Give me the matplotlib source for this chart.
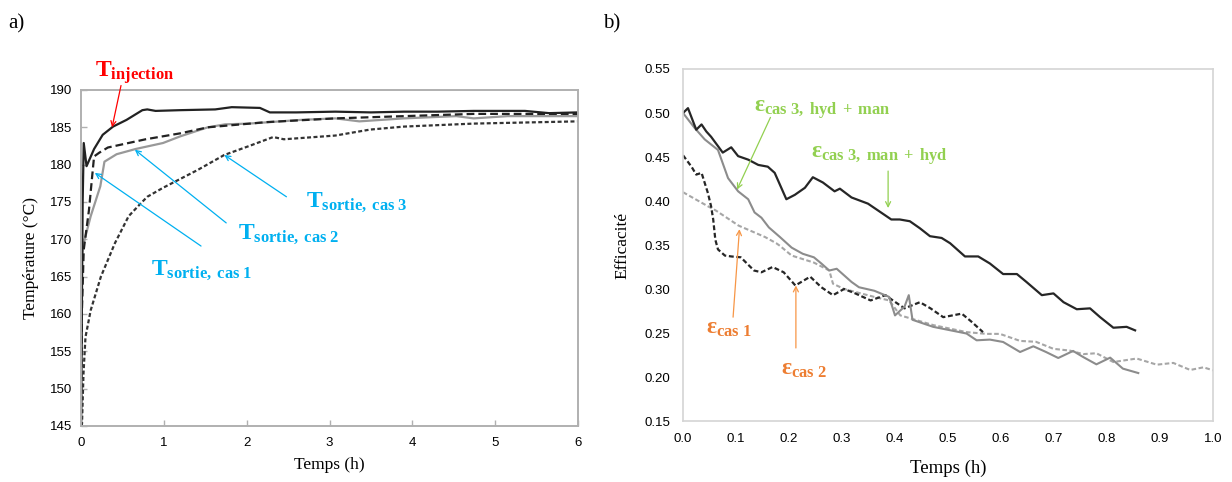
import matplotlib
matplotlib.use("Agg")
import matplotlib.pyplot as plt

plt.rcParams['mathtext.fontset'] = 'custom'
plt.rcParams['mathtext.rm'] = 'Liberation Serif'
plt.rcParams['mathtext.bf'] = 'Liberation Serif:bold'
plt.rcParams['mathtext.it'] = 'Liberation Serif:italic'
plt.rcParams['lines.solid_joinstyle'] = 'round'
plt.rcParams['lines.dash_joinstyle'] = 'round'

# ---------------- Panel a data (Temps en h, Température en °C) ----------------
t_inj = [0.0, 0.02, 0.033, 0.067, 0.158, 0.262, 0.387, 0.55, 0.741, 0.80, 0.9, 1.2, 1.62, 1.82, 2.16, 2.28, 2.6, 3.07, 3.5, 3.9, 4.3, 4.74, 5.36, 5.65, 6.0]
T_inj = [145.0, 175.0, 182.9, 179.8, 182.1, 184.0, 185.1, 186.0, 187.3, 187.4, 187.2, 187.3, 187.4, 187.7, 187.6, 187.0, 187.0, 187.1, 187.0, 187.1, 187.1, 187.2, 187.2, 186.9, 187.0]

t_cas1 = [0.0, 0.01, 0.033, 0.096, 0.137, 0.158, 0.22, 0.325, 0.78, 1.2, 1.53, 2.24, 3.07, 3.9, 4.74, 6.0]
T_cas1 = [145.0, 160.0, 168.6, 173.9, 178.7, 181.1, 181.6, 182.3, 183.4, 184.2, 185.0, 185.7, 186.2, 186.5, 186.8, 186.8]

t_cas2 = [0.0, 0.012, 0.033, 0.117, 0.233, 0.283, 0.43, 0.66, 0.99, 1.2, 1.53, 1.74, 2.03, 2.66, 3.07, 3.36, 3.9, 4.53, 4.74, 5.15, 6.0]
T_cas2 = [145.0, 167.7, 169.5, 173.1, 177.1, 180.4, 181.4, 182.1, 182.9, 183.8, 185.0, 185.4, 185.5, 186.0, 186.2, 185.8, 186.2, 186.5, 186.2, 186.5, 186.5]

t_cas3 = [0.005, 0.012, 0.03, 0.054, 0.117, 0.24, 0.41, 0.575, 0.72, 0.80, 0.99, 1.41, 1.73, 2.03, 2.32, 2.45, 3.07, 3.49, 3.9, 4.74, 6.0]
T_cas3 = [145.0, 145.3, 152.0, 156.9, 160.5, 165.0, 169.5, 173.1, 174.8, 175.7, 176.9, 179.3, 181.3, 182.5, 183.7, 183.4, 183.9, 184.7, 185.1, 185.5, 185.8]

# ---------------- Panel b data (Temps en h, Efficacité) ----------------
x_man_hyd = [0.0, 0.0094, 0.025, 0.035, 0.044, 0.053, 0.075, 0.091, 0.104, 0.123, 0.142, 0.160, 0.173, 0.195, 0.211, 0.230, 0.245, 0.264, 0.286, 0.296, 0.318, 0.349, 0.393, 0.409, 0.428, 0.447, 0.466, 0.488, 0.504, 0.532, 0.557, 0.579, 0.604, 0.630, 0.648, 0.677, 0.699, 0.718, 0.743, 0.768, 0.787, 0.812, 0.837, 0.853]
e_man_hyd = [0.500, 0.5055, 0.481, 0.487, 0.479, 0.473, 0.455, 0.461, 0.451, 0.447, 0.441, 0.439, 0.432, 0.402, 0.407, 0.415, 0.427, 0.421, 0.411, 0.414, 0.404, 0.397, 0.379, 0.379, 0.377, 0.369, 0.360, 0.358, 0.352, 0.337, 0.337, 0.329, 0.317, 0.317, 0.308, 0.293, 0.295, 0.285, 0.277, 0.278, 0.268, 0.256, 0.257, 0.253]

x_hyd_man = [0.0, 0.022, 0.041, 0.066, 0.085, 0.104, 0.123, 0.135, 0.148, 0.162, 0.183, 0.205, 0.226, 0.247, 0.261, 0.276, 0.29, 0.318, 0.332, 0.361, 0.389, 0.40, 0.418, 0.426, 0.433, 0.472, 0.535, 0.554, 0.579, 0.604, 0.636, 0.661, 0.685, 0.708, 0.736, 0.755, 0.780, 0.806, 0.830, 0.859]
e_hyd_man = [0.500, 0.483, 0.470, 0.458, 0.426, 0.411, 0.402, 0.387, 0.381, 0.370, 0.359, 0.347, 0.340, 0.336, 0.329, 0.321, 0.323, 0.308, 0.302, 0.298, 0.291, 0.270, 0.280, 0.293, 0.265, 0.257, 0.2494, 0.2417, 0.2425, 0.2398, 0.2284, 0.2349, 0.2284, 0.2216, 0.2296, 0.2227, 0.2144, 0.222, 0.2095, 0.2045]

x_e2 = [0.0, 0.016, 0.025, 0.035, 0.047, 0.053, 0.057, 0.061, 0.066, 0.079, 0.091, 0.109, 0.134, 0.148, 0.169, 0.19, 0.212, 0.24, 0.261, 0.283, 0.304, 0.325, 0.354, 0.382, 0.396, 0.418, 0.447, 0.467, 0.491, 0.526, 0.544, 0.566]
e_e2 = [0.452, 0.439, 0.430, 0.432, 0.409, 0.394, 0.379, 0.356, 0.345, 0.338, 0.337, 0.336, 0.321, 0.319, 0.325, 0.319, 0.304, 0.314, 0.302, 0.293, 0.300, 0.295, 0.287, 0.293, 0.287, 0.278, 0.285, 0.278, 0.268, 0.272, 0.263, 0.251]

x_e1 = [0.0, 0.047, 0.0625, 0.105, 0.155, 0.176, 0.183, 0.205, 0.247, 0.276, 0.283, 0.304, 0.361, 0.389, 0.41, 0.472, 0.535, 0.573, 0.598, 0.636, 0.666, 0.699, 0.730, 0.755, 0.780, 0.812, 0.856, 0.894, 0.925, 0.957, 0.982, 1.0]
e_e1 = [0.410, 0.394, 0.389, 0.372, 0.359, 0.352, 0.349, 0.338, 0.330, 0.321, 0.306, 0.300, 0.291, 0.287, 0.270, 0.259, 0.251, 0.249, 0.249, 0.241, 0.240, 0.232, 0.230, 0.226, 0.227, 0.217, 0.221, 0.214, 0.216, 0.208, 0.211, 0.2076]

a_xticks = [0, 1, 2, 3, 4, 5, 6]
a_yticks = [145, 150, 155, 160, 165, 170, 175, 180, 185, 190]
b_xticks = [0.0, 0.1, 0.2, 0.3, 0.4, 0.5, 0.6, 0.7, 0.8, 0.9, 1.0]
b_yticks = [0.15, 0.20, 0.25, 0.30, 0.35, 0.40, 0.45, 0.50, 0.55]

W, H = 1232, 482
fig = plt.figure(figsize=(W / 100, H / 100), dpi=100)

def fx(px):
    return px / W

def fy(py):
    return 1 - py / H

SERIF = 'Liberation Serif'
SANS = 'Liberation Sans'
CYAN = '#00b0f0'
RED = '#ff0000'
GREEN = '#92d050'
ORANGE = '#ed7d31'
ORANGE_L = '#f79646'

# ---------------- Panel a ----------------
ax1 = fig.add_axes([fx(81), fy(426), fx(578) - fx(81), fy(90) - fy(426)])
ax1.plot(t_cas3, T_cas3, color='#333333', lw=1.6, ls=(0, (1.8, 1.1)))
ax1.plot(t_cas2, T_cas2, color='#999999', lw=1.6)
ax1.plot(t_cas1, T_cas1, color='#222222', lw=1.6, ls=(0, (3.5, 1.8)))
ax1.plot(t_inj, T_inj, color='#222222', lw=1.6)
ax1.set_xlim(0, 6)
ax1.set_ylim(145, 190)
ax1.set_xticks(a_xticks)
ax1.set_yticks(a_yticks)
ax1.set_xticklabels([str(v) for v in a_xticks], fontfamily=SANS, fontsize=9.5)
ax1.set_yticklabels([str(v) for v in a_yticks], fontfamily=SANS, fontsize=9.5)
for s in ax1.spines.values():
    s.set_color('#b0b0b0')
    s.set_linewidth(1.4)
ax1.tick_params(axis='both', direction='in', length=4, color='#b0b0b0', width=1.0, pad=6)
ax1.tick_params(axis='x', pad=8)
ax1.set_xlabel('Temps (h)', fontfamily=SERIF, fontsize=12.5, labelpad=6)
ax1.set_ylabel('Température (°C)', fontfamily=SERIF, fontsize=12.5, labelpad=8)

arrow_c = dict(arrowstyle='->', color=CYAN, lw=0.9, shrinkA=0, shrinkB=0, mutation_scale=9)
ax1.annotate('', xy=(0.167, 178.9), xytext=(1.449, 169.1), arrowprops=arrow_c)
ax1.annotate('', xy=(0.65, 182.0), xytext=(1.753, 172.2), arrowprops=arrow_c)
ax1.annotate('', xy=(1.73, 181.3), xytext=(2.48, 175.7), arrowprops=arrow_c)
arrow_r = dict(arrowstyle='->', color=RED, lw=0.9, shrinkA=0, shrinkB=0, mutation_scale=9)
ax1.annotate('', xy=(0.375, 185.0), xytext=(0.483, 190.6), arrowprops=arrow_r, annotation_clip=False)

fig.text(fx(95), fy(77), r'$\mathbf{T}_{\mathbf{injection}}$', color=RED, fontsize=17, ha='left', va='baseline')
fig.text(fx(151), fy(275), r'$\mathbf{T}_{\mathbf{sortie,\ cas\ 1}}$', color=CYAN, fontsize=17, ha='left', va='baseline')
fig.text(fx(238), fy(239), r'$\mathbf{T}_{\mathbf{sortie,\ cas\ 2}}$', color=CYAN, fontsize=17, ha='left', va='baseline')
fig.text(fx(306), fy(207), r'$\mathbf{T}_{\mathbf{sortie,\ cas\ 3}}$', color=CYAN, fontsize=17, ha='left', va='baseline')

# ---------------- Panel b ----------------
ax2 = fig.add_axes([fx(683), fy(421), fx(1213) - fx(683), fy(69) - fy(421)])
ax2.plot(x_e1, e_e1, color='#a6a6a6', lw=1.5, ls=(0, (2.2, 1.2)))
ax2.plot(x_e2, e_e2, color='#262626', lw=1.6, ls=(0, (2.2, 1.2)))
ax2.plot(x_hyd_man, e_hyd_man, color='#8c8c8c', lw=1.5)
ax2.plot(x_man_hyd, e_man_hyd, color='#262626', lw=1.6)
ax2.set_xlim(0, 1.0)
ax2.set_ylim(0.15, 0.55)
ax2.set_xticks(b_xticks)
ax2.set_yticks(b_yticks)
ax2.set_xticklabels(['%.1f' % v for v in b_xticks], fontfamily=SANS, fontsize=9.5)
ax2.set_yticklabels(['%.2f' % v for v in b_yticks], fontfamily=SANS, fontsize=9.5)
for s in ax2.spines.values():
    s.set_color('#d4d4d4')
    s.set_linewidth(1.2)
ax2.tick_params(axis='both', length=0, pad=9)
ax2.set_xlabel('Temps (h)', fontfamily=SERIF, fontsize=13.5, labelpad=10)
ax2.set_ylabel('Efficacité', fontfamily=SERIF, fontsize=12.5, labelpad=10)

arrow_g = dict(arrowstyle='->', color=GREEN, lw=0.9, shrinkA=0, shrinkB=0, mutation_scale=9)
ax2.annotate('', xy=(0.102, 0.413), xytext=(0.165, 0.495), arrowprops=arrow_g)
ax2.annotate('', xy=(0.387, 0.392), xytext=(0.387, 0.434), arrowprops=arrow_g)
arrow_o = dict(arrowstyle='->', color=ORANGE_L, lw=0.9, shrinkA=0, shrinkB=0, mutation_scale=9)
ax2.annotate('', xy=(0.1065, 0.368), xytext=(0.0945, 0.268), arrowprops=arrow_o)
ax2.annotate('', xy=(0.213, 0.304), xytext=(0.213, 0.233), arrowprops=arrow_o)

fig.text(fx(754), fy(112), r'$\mathbf{ε}_{\mathbf{cas\ 3,\ hyd\ +\ man}}$', color=GREEN, fontsize=17, ha='left', va='baseline')
fig.text(fx(811), fy(158), r'$\mathbf{ε}_{\mathbf{cas\ 3,\ man\ +\ hyd}}$', color=GREEN, fontsize=17, ha='left', va='baseline')
fig.text(fx(706), fy(334), r'$\mathbf{ε}_{\mathbf{cas\ 1}}$', color=ORANGE, fontsize=17, ha='left', va='baseline')
fig.text(fx(781), fy(375), r'$\mathbf{ε}_{\mathbf{cas\ 2}}$', color=ORANGE, fontsize=17, ha='left', va='baseline')

# panel labels
fig.text(fx(8), fy(28), 'a)', fontfamily=SERIF, fontsize=15, ha='left', va='baseline')
fig.text(fx(603), fy(28), 'b)', fontfamily=SERIF, fontsize=15, ha='left', va='baseline')

fig.savefig('out.png', dpi=100)
